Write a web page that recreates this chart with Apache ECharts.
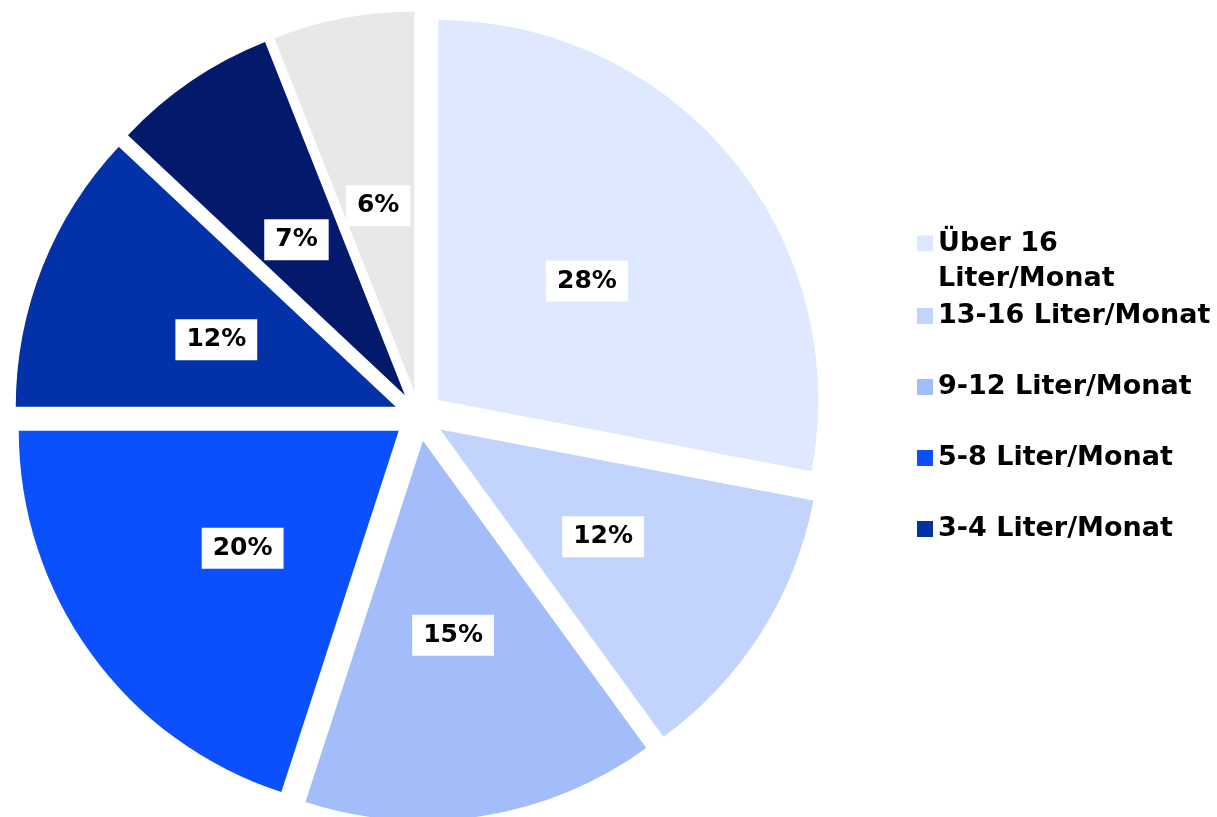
<!DOCTYPE html>
<html>
<head>
<meta charset="utf-8">
<script src="https://cdn.jsdelivr.net/npm/echarts@6/dist/echarts.min.js"></script>
<style>
  html, body { margin: 0; padding: 0; background: #fff; }
  #chart { width: 1217px; height: 817px; }
</style>
</head>
<body>
<div id="chart"></div>
<script>
const categories = [
  'Über 16 Liter/Monat',
  '13-16 Liter/Monat',
  '9-12 Liter/Monat',
  '5-8 Liter/Monat',
  '3-4 Liter/Monat',
  '1-2 Liter/Monat',
  'Weniger als 1 Liter/Monat'
]
const values = [28, 12, 15, 20, 12, 7, 6]
const colors = ['#dee8fe', '#c2d4fd', '#a3bdfb', '#0c50fd', '#0331a8', '#03196c', '#e8e8e8']

const font = 'DejaVu Sans'
const legendText = {
  color: '#000',
  fontFamily: font,
  fontWeight: 'bold',
  fontSize: 27,
  lineHeight: 35
}

function makeLegend(names, top, extra) {
  return Object.assign({
    orient: 'vertical',
    left: 912,
    top: top,
    icon: 'rect',
    itemWidth: 16,
    itemHeight: 16,
    itemGap: 36,
    selectedMode: false,
    textStyle: legendText,
    data: names
  }, extra || {})
}

const chart = echarts.init(document.getElementById('chart'))
const option = {
  animation: false,
  color: colors,
  legend: [
    // leere erste Zeile, damit das Symbol auf Höhe der ersten Textzeile steht
    makeLegend([categories[0]], 186, {
      formatter: (name) => '\n' + name.replace('16 ', '16\n')
    }),
    makeLegend([categories[1]], 293.5),
    makeLegend([categories[2], categories[3], categories[4]], 364.5)
  ],
  series: [
    {
      type: 'pie',
      center: [419, 416],
      radius: 380,
      startAngle: 90,
      clockwise: true,
      selectedMode: 'multiple',
      selectedOffset: 25,
      emphasis: { disabled: true },
      itemStyle: { borderWidth: 0 },
      label: {
        show: true,
        position: 'inside',
        formatter: '{c}%',
        color: '#000',
        fontFamily: font,
        fontWeight: 'bold',
        fontSize: 25,
        lineHeight: 25,
        backgroundColor: '#fff',
        padding: [9, 11, 7, 11]
      },
      labelLayout: { dy: 4 },
      labelLine: { show: false },
      data: categories.map((name, i) => ({ name: name, value: values[i], selected: true }))
    }
  ]
}
chart.setOption(option)
</script>
</body>
</html>
